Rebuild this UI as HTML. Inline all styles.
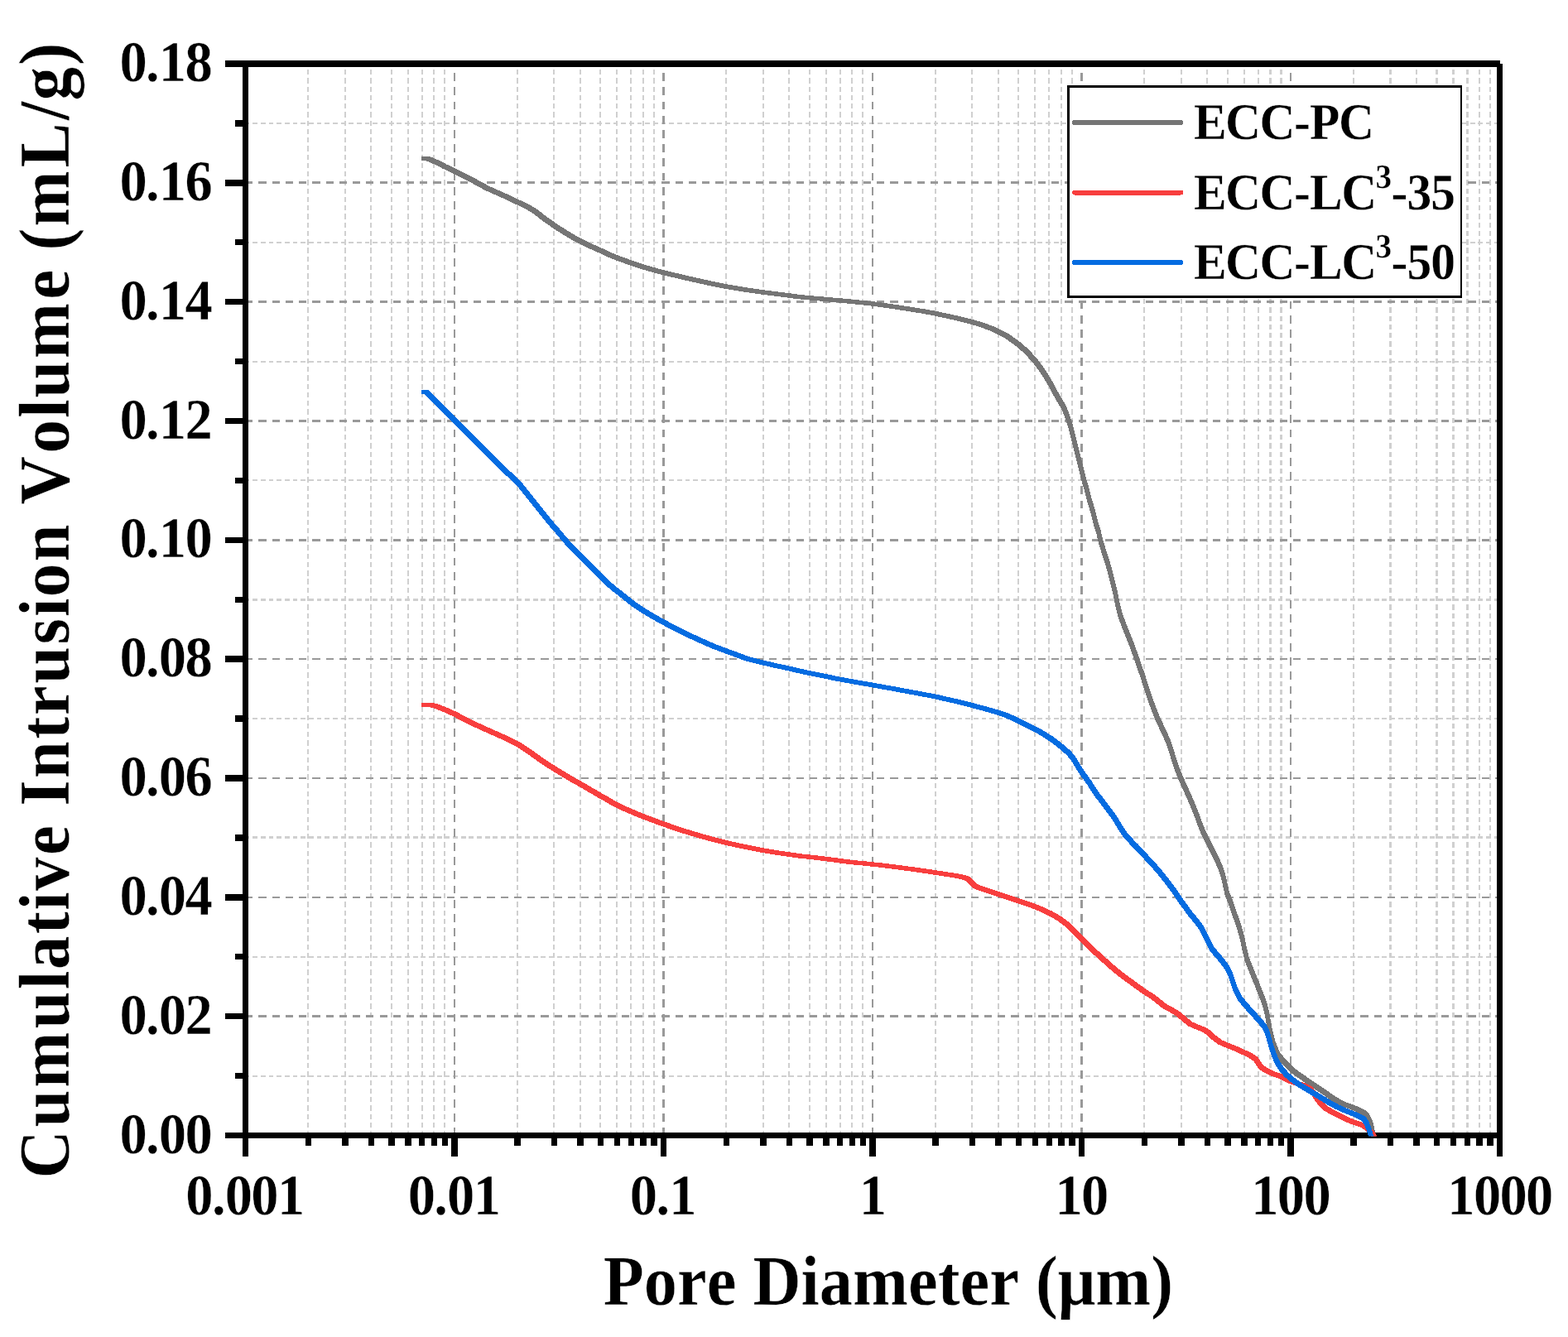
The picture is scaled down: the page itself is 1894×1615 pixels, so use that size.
<!DOCTYPE html>
<html lang="en"><head><meta charset="utf-8"><title>Cumulative Intrusion Volume vs Pore Diameter</title>
<style>html,body{margin:0;padding:0;background:#fff}body{width:1894px;height:1615px;overflow:hidden}svg{display:block}</style></head><body>
<svg width="1894" height="1615" viewBox="0 0 1894 1615" role="img" aria-label="Cumulative intrusion volume versus pore diameter for ECC-PC, ECC-LC3-35 and ECC-LC3-50">
<rect width="1894" height="1615" fill="#fff"/>
<g id="grid-minor" shape-rendering="crispEdges" fill="none" stroke="#d0d0d0">
<line x1="296.5" y1="149" x2="1811.5" y2="149" stroke-width="2" stroke-dasharray="5.85 3.825" stroke-dashoffset="1"/>
<line x1="296.5" y1="293" x2="1811.5" y2="293" stroke-width="2" stroke-dasharray="5.85 3.825" stroke-dashoffset="1"/>
<line x1="296.5" y1="437" x2="1811.5" y2="437" stroke-width="2" stroke-dasharray="5.85 3.825" stroke-dashoffset="1"/>
<line x1="296.5" y1="580" x2="1811.5" y2="580" stroke-width="2" stroke-dasharray="5.85 3.825" stroke-dashoffset="1"/>
<line x1="296.5" y1="724.5" x2="1811.5" y2="724.5" stroke-width="3" stroke-dasharray="5.85 3.825" stroke-dashoffset="1"/>
<line x1="296.5" y1="868" x2="1811.5" y2="868" stroke-width="2" stroke-dasharray="5.85 3.825" stroke-dashoffset="1"/>
<line x1="296.5" y1="1011.5" x2="1811.5" y2="1011.5" stroke-width="3" stroke-dasharray="5.85 3.825" stroke-dashoffset="1"/>
<line x1="296.5" y1="1156" x2="1811.5" y2="1156" stroke-width="2" stroke-dasharray="5.85 3.825" stroke-dashoffset="1"/>
<line x1="296.5" y1="1300" x2="1811.5" y2="1300" stroke-width="2" stroke-dasharray="5.85 3.825" stroke-dashoffset="1"/>
<line x1="372" y1="77" x2="372" y2="1371.5" stroke-width="2" stroke-dasharray="6.3 3.957" stroke-dashoffset="3.19"/>
<line x1="417" y1="77" x2="417" y2="1371.5" stroke-width="2" stroke-dasharray="6.3 3.957" stroke-dashoffset="3.19"/>
<line x1="448" y1="77" x2="448" y2="1371.5" stroke-width="2" stroke-dasharray="6.3 3.957" stroke-dashoffset="3.19"/>
<line x1="473" y1="77" x2="473" y2="1371.5" stroke-width="2" stroke-dasharray="6.3 3.957" stroke-dashoffset="3.19"/>
<line x1="493" y1="77" x2="493" y2="1371.5" stroke-width="2" stroke-dasharray="6.3 3.957" stroke-dashoffset="3.19"/>
<line x1="510" y1="77" x2="510" y2="1371.5" stroke-width="2" stroke-dasharray="6.3 3.957" stroke-dashoffset="3.19"/>
<line x1="524" y1="77" x2="524" y2="1371.5" stroke-width="2" stroke-dasharray="6.3 3.957" stroke-dashoffset="3.19"/>
<line x1="537" y1="77" x2="537" y2="1371.5" stroke-width="2" stroke-dasharray="6.3 3.957" stroke-dashoffset="3.19"/>
<line x1="625" y1="77" x2="625" y2="1371.5" stroke-width="2" stroke-dasharray="6.3 3.957" stroke-dashoffset="3.19"/>
<line x1="669" y1="77" x2="669" y2="1371.5" stroke-width="2" stroke-dasharray="6.3 3.957" stroke-dashoffset="3.19"/>
<line x1="701" y1="77" x2="701" y2="1371.5" stroke-width="2" stroke-dasharray="6.3 3.957" stroke-dashoffset="3.19"/>
<line x1="725" y1="77" x2="725" y2="1371.5" stroke-width="2" stroke-dasharray="6.3 3.957" stroke-dashoffset="3.19"/>
<line x1="745" y1="77" x2="745" y2="1371.5" stroke-width="2" stroke-dasharray="6.3 3.957" stroke-dashoffset="3.19"/>
<line x1="762" y1="77" x2="762" y2="1371.5" stroke-width="2" stroke-dasharray="6.3 3.957" stroke-dashoffset="3.19"/>
<line x1="777" y1="77" x2="777" y2="1371.5" stroke-width="2" stroke-dasharray="6.3 3.957" stroke-dashoffset="3.19"/>
<line x1="790" y1="77" x2="790" y2="1371.5" stroke-width="2" stroke-dasharray="6.3 3.957" stroke-dashoffset="3.19"/>
<line x1="877" y1="77" x2="877" y2="1371.5" stroke-width="2" stroke-dasharray="6.3 3.957" stroke-dashoffset="3.19"/>
<line x1="922" y1="77" x2="922" y2="1371.5" stroke-width="2" stroke-dasharray="6.3 3.957" stroke-dashoffset="3.19"/>
<line x1="953" y1="77" x2="953" y2="1371.5" stroke-width="2" stroke-dasharray="6.3 3.957" stroke-dashoffset="3.19"/>
<line x1="978" y1="77" x2="978" y2="1371.5" stroke-width="2" stroke-dasharray="6.3 3.957" stroke-dashoffset="3.19"/>
<line x1="998" y1="77" x2="998" y2="1371.5" stroke-width="2" stroke-dasharray="6.3 3.957" stroke-dashoffset="3.19"/>
<line x1="1015" y1="77" x2="1015" y2="1371.5" stroke-width="2" stroke-dasharray="6.3 3.957" stroke-dashoffset="3.19"/>
<line x1="1029" y1="77" x2="1029" y2="1371.5" stroke-width="2" stroke-dasharray="6.3 3.957" stroke-dashoffset="3.19"/>
<line x1="1042" y1="77" x2="1042" y2="1371.5" stroke-width="2" stroke-dasharray="6.3 3.957" stroke-dashoffset="3.19"/>
<line x1="1130" y1="77" x2="1130" y2="1371.5" stroke-width="2" stroke-dasharray="6.3 3.957" stroke-dashoffset="3.19"/>
<line x1="1174" y1="77" x2="1174" y2="1371.5" stroke-width="2" stroke-dasharray="6.3 3.957" stroke-dashoffset="3.19"/>
<line x1="1206" y1="77" x2="1206" y2="1371.5" stroke-width="2" stroke-dasharray="6.3 3.957" stroke-dashoffset="3.19"/>
<line x1="1230" y1="77" x2="1230" y2="1371.5" stroke-width="2" stroke-dasharray="6.3 3.957" stroke-dashoffset="3.19"/>
<line x1="1250" y1="77" x2="1250" y2="1371.5" stroke-width="2" stroke-dasharray="6.3 3.957" stroke-dashoffset="3.19"/>
<line x1="1267" y1="77" x2="1267" y2="1371.5" stroke-width="2" stroke-dasharray="6.3 3.957" stroke-dashoffset="3.19"/>
<line x1="1282" y1="77" x2="1282" y2="1371.5" stroke-width="2" stroke-dasharray="6.3 3.957" stroke-dashoffset="3.19"/>
<line x1="1295" y1="77" x2="1295" y2="1371.5" stroke-width="2" stroke-dasharray="6.3 3.957" stroke-dashoffset="3.19"/>
<line x1="1382" y1="77" x2="1382" y2="1371.5" stroke-width="2" stroke-dasharray="6.3 3.957" stroke-dashoffset="3.19"/>
<line x1="1427" y1="77" x2="1427" y2="1371.5" stroke-width="2" stroke-dasharray="6.3 3.957" stroke-dashoffset="3.19"/>
<line x1="1458" y1="77" x2="1458" y2="1371.5" stroke-width="2" stroke-dasharray="6.3 3.957" stroke-dashoffset="3.19"/>
<line x1="1483" y1="77" x2="1483" y2="1371.5" stroke-width="2" stroke-dasharray="6.3 3.957" stroke-dashoffset="3.19"/>
<line x1="1503" y1="77" x2="1503" y2="1371.5" stroke-width="2" stroke-dasharray="6.3 3.957" stroke-dashoffset="3.19"/>
<line x1="1520" y1="77" x2="1520" y2="1371.5" stroke-width="2" stroke-dasharray="6.3 3.957" stroke-dashoffset="3.19"/>
<line x1="1534.5" y1="77" x2="1534.5" y2="1371.5" stroke-width="3" stroke-dasharray="6.3 3.957" stroke-dashoffset="3.19"/>
<line x1="1547.5" y1="77" x2="1547.5" y2="1371.5" stroke-width="3" stroke-dasharray="6.3 3.957" stroke-dashoffset="3.19"/>
<line x1="1635" y1="77" x2="1635" y2="1371.5" stroke-width="2" stroke-dasharray="6.3 3.957" stroke-dashoffset="3.19"/>
<line x1="1679.5" y1="77" x2="1679.5" y2="1371.5" stroke-width="3" stroke-dasharray="6.3 3.957" stroke-dashoffset="3.19"/>
<line x1="1711" y1="77" x2="1711" y2="1371.5" stroke-width="2" stroke-dasharray="6.3 3.957" stroke-dashoffset="3.19"/>
<line x1="1735.5" y1="77" x2="1735.5" y2="1371.5" stroke-width="3" stroke-dasharray="6.3 3.957" stroke-dashoffset="3.19"/>
<line x1="1755.5" y1="77" x2="1755.5" y2="1371.5" stroke-width="3" stroke-dasharray="6.3 3.957" stroke-dashoffset="3.19"/>
<line x1="1772.5" y1="77" x2="1772.5" y2="1371.5" stroke-width="3" stroke-dasharray="6.3 3.957" stroke-dashoffset="3.19"/>
<line x1="1787" y1="77" x2="1787" y2="1371.5" stroke-width="2" stroke-dasharray="6.3 3.957" stroke-dashoffset="3.19"/>
<line x1="1800" y1="77" x2="1800" y2="1371.5" stroke-width="2" stroke-dasharray="6.3 3.957" stroke-dashoffset="3.19"/>
</g>
<g id="grid-major" shape-rendering="crispEdges" fill="none" stroke="#999999">
<line x1="296.5" y1="220.5" x2="1811.5" y2="220.5" stroke-width="3" stroke-dasharray="9.2 7.032" stroke-dashoffset="0.3"/>
<line x1="296.5" y1="364.5" x2="1811.5" y2="364.5" stroke-width="3" stroke-dasharray="9.2 7.032" stroke-dashoffset="0.3"/>
<line x1="296.5" y1="508.5" x2="1811.5" y2="508.5" stroke-width="3" stroke-dasharray="9.2 7.032" stroke-dashoffset="0.3"/>
<line x1="296.5" y1="652.5" x2="1811.5" y2="652.5" stroke-width="3" stroke-dasharray="9.2 7.032" stroke-dashoffset="0.3"/>
<line x1="296.5" y1="796" x2="1811.5" y2="796" stroke-width="2" stroke-dasharray="9.2 7.032" stroke-dashoffset="0.3"/>
<line x1="296.5" y1="940" x2="1811.5" y2="940" stroke-width="2" stroke-dasharray="9.2 7.032" stroke-dashoffset="0.3"/>
<line x1="296.5" y1="1084" x2="1811.5" y2="1084" stroke-width="2" stroke-dasharray="9.2 7.032" stroke-dashoffset="0.3"/>
<line x1="296.5" y1="1227.5" x2="1811.5" y2="1227.5" stroke-width="3" stroke-dasharray="9.2 7.032" stroke-dashoffset="0.3"/>
<line x1="549" y1="77" x2="549" y2="1371.5" stroke-width="2" stroke-dasharray="9.8 7.42" stroke-dashoffset="6.16"/>
<line x1="801.5" y1="77" x2="801.5" y2="1371.5" stroke-width="3" stroke-dasharray="9.8 7.42" stroke-dashoffset="6.16"/>
<line x1="1054" y1="77" x2="1054" y2="1371.5" stroke-width="2" stroke-dasharray="9.8 7.42" stroke-dashoffset="6.16"/>
<line x1="1306.5" y1="77" x2="1306.5" y2="1371.5" stroke-width="3" stroke-dasharray="9.8 7.42" stroke-dashoffset="6.16"/>
<line x1="1559" y1="77" x2="1559" y2="1371.5" stroke-width="2" stroke-dasharray="9.8 7.42" stroke-dashoffset="6.16"/>
</g>
<g id="axes" shape-rendering="crispEdges" fill="#000">
<rect x="272" y="73" width="1540" height="8"/>
<rect x="272" y="1368" width="1543" height="7"/>
<rect x="293" y="73" width="7" height="1324"/>
<rect x="1808" y="77" width="7" height="1320"/>
<rect x="284" y="145" width="12" height="8"/>
<rect x="272" y="217" width="24" height="8"/>
<rect x="284" y="289" width="12" height="7"/>
<rect x="272" y="361" width="24" height="7"/>
<rect x="284" y="433" width="12" height="7"/>
<rect x="272" y="505" width="24" height="7"/>
<rect x="284" y="577" width="12" height="7"/>
<rect x="272" y="649" width="24" height="7"/>
<rect x="284" y="721" width="12" height="7"/>
<rect x="272" y="792" width="24" height="8"/>
<rect x="284" y="864" width="12" height="8"/>
<rect x="272" y="936" width="24" height="8"/>
<rect x="284" y="1008" width="12" height="8"/>
<rect x="272" y="1080" width="24" height="8"/>
<rect x="284" y="1152" width="12" height="7"/>
<rect x="272" y="1224" width="24" height="7"/>
<rect x="284" y="1296" width="12" height="7"/>
<rect x="369" y="1371" width="7" height="13"/>
<rect x="413" y="1371" width="8" height="13"/>
<rect x="445" y="1371" width="7" height="13"/>
<rect x="469" y="1371" width="8" height="13"/>
<rect x="489" y="1371" width="8" height="13"/>
<rect x="506" y="1371" width="7" height="13"/>
<rect x="521" y="1371" width="7" height="13"/>
<rect x="534" y="1371" width="7" height="13"/>
<rect x="545" y="1371" width="8" height="26"/>
<rect x="621" y="1371" width="8" height="13"/>
<rect x="666" y="1371" width="7" height="13"/>
<rect x="697" y="1371" width="8" height="13"/>
<rect x="722" y="1371" width="7" height="13"/>
<rect x="742" y="1371" width="7" height="13"/>
<rect x="759" y="1371" width="7" height="13"/>
<rect x="773" y="1371" width="8" height="13"/>
<rect x="786" y="1371" width="8" height="13"/>
<rect x="798" y="1371" width="7" height="26"/>
<rect x="874" y="1371" width="7" height="13"/>
<rect x="918" y="1371" width="8" height="13"/>
<rect x="950" y="1371" width="7" height="13"/>
<rect x="974" y="1371" width="8" height="13"/>
<rect x="994" y="1371" width="8" height="13"/>
<rect x="1011" y="1371" width="7" height="13"/>
<rect x="1026" y="1371" width="7" height="13"/>
<rect x="1039" y="1371" width="7" height="13"/>
<rect x="1050" y="1371" width="8" height="26"/>
<rect x="1126" y="1371" width="8" height="13"/>
<rect x="1171" y="1371" width="7" height="13"/>
<rect x="1202" y="1371" width="8" height="13"/>
<rect x="1227" y="1371" width="7" height="13"/>
<rect x="1247" y="1371" width="7" height="13"/>
<rect x="1264" y="1371" width="7" height="13"/>
<rect x="1278" y="1371" width="8" height="13"/>
<rect x="1291" y="1371" width="8" height="13"/>
<rect x="1303" y="1371" width="7" height="26"/>
<rect x="1379" y="1371" width="7" height="13"/>
<rect x="1423" y="1371" width="8" height="13"/>
<rect x="1455" y="1371" width="7" height="13"/>
<rect x="1479" y="1371" width="8" height="13"/>
<rect x="1499" y="1371" width="8" height="13"/>
<rect x="1516" y="1371" width="7" height="13"/>
<rect x="1531" y="1371" width="7" height="13"/>
<rect x="1544" y="1371" width="7" height="13"/>
<rect x="1555" y="1371" width="8" height="26"/>
<rect x="1631" y="1371" width="8" height="13"/>
<rect x="1676" y="1371" width="7" height="13"/>
<rect x="1707" y="1371" width="8" height="13"/>
<rect x="1732" y="1371" width="7" height="13"/>
<rect x="1752" y="1371" width="7" height="13"/>
<rect x="1769" y="1371" width="7" height="13"/>
<rect x="1783" y="1371" width="8" height="13"/>
<rect x="1796" y="1371" width="8" height="13"/>
</g>
<defs><clipPath id="plotclip"><rect x="296.5" y="77" width="1515" height="1295.5"/></clipPath></defs>
<g id="curves" clip-path="url(#plotclip)" stroke="none" shape-rendering="crispEdges">
<path id="ecc-pc" fill="#757575" d="M509.3 188.9L514.3 188.9C515.17 189 517.3 188.9 519.5 189.5C521.7 190.1 524.08 190.96 527.5 192.5C530.92 194.04 535.98 196.77 540 198.75C544.02 200.73 547.43 202.32 551.6 204.4C555.77 206.48 560.68 209.07 565 211.25C569.32 213.43 573.33 215.31 577.5 217.5C581.67 219.69 585.83 222.32 590 224.4C594.17 226.48 598.33 228.13 602.5 230C606.67 231.87 610.83 233.68 615 235.6C619.17 237.52 623.33 239.52 627.5 241.5C631.67 243.48 636.25 245.46 640 247.5C643.75 249.54 646.88 251.57 650 253.75C653.12 255.93 655.21 257.99 658.75 260.6C662.29 263.21 667.08 266.58 671.25 269.4C675.42 272.22 679.58 274.9 683.75 277.5C687.92 280.1 693.02 283.12 696.25 285C699.48 286.88 699.98 287.18 703.1 288.75C706.23 290.32 710.93 292.52 715 294.4C719.07 296.27 723.42 298.15 727.5 300C731.58 301.85 736.17 304.04 739.5 305.5C742.83 306.96 743.35 307.17 747.5 308.75C751.65 310.33 759.08 313.12 764.4 315C769.72 316.88 774.72 318.54 779.4 320C784.08 321.46 788.4 322.6 792.5 323.75C796.6 324.9 799.42 325.76 804 326.9C808.58 328.04 814.21 329.25 820 330.6C825.79 331.95 832.5 333.58 838.75 335C845 336.42 850.73 337.68 857.5 339.1C864.27 340.52 872.11 342.14 879.4 343.5C886.69 344.86 893.75 346.07 901.25 347.25C908.75 348.43 917.11 349.62 924.4 350.6C931.69 351.58 937.52 352.16 945 353.1C952.48 354.04 961.33 355.38 969.25 356.25C977.17 357.12 984.62 357.61 992.5 358.3C1000.38 358.99 1009.17 359.72 1016.5 360.4C1023.83 361.08 1029.83 361.73 1036.5 362.4C1043.17 363.07 1049.67 363.58 1056.5 364.4C1063.33 365.22 1070.83 366.33 1077.5 367.3C1084.17 368.27 1089.62 369.13 1096.5 370.2C1103.38 371.27 1112.79 372.7 1118.75 373.7C1124.71 374.7 1127.04 375.15 1132.25 376.2C1137.46 377.25 1144.96 378.9 1150 380C1155.04 381.1 1158.12 381.75 1162.5 382.8C1166.88 383.85 1172.08 385.13 1176.25 386.3C1180.42 387.47 1183.54 388.48 1187.5 389.8C1191.46 391.12 1196.57 392.85 1200 394.2C1203.43 395.55 1204.97 396.33 1208.1 397.9C1211.22 399.47 1215.93 401.92 1218.75 403.6C1221.57 405.28 1222.78 406.43 1225 408C1227.22 409.57 1229.6 411.02 1232.1 413C1234.6 414.98 1237.43 417.48 1240 419.9C1242.57 422.32 1245.42 425.3 1247.5 427.5C1249.58 429.7 1250.62 430.81 1252.5 433.1C1254.38 435.39 1256.67 438.33 1258.75 441.25C1260.83 444.17 1263.14 447.73 1265 450.6C1266.86 453.48 1268.15 455.48 1269.9 458.5C1271.65 461.52 1273.73 465.5 1275.5 468.75C1277.27 472 1278.5 474.46 1280.5 478C1282.5 481.54 1285.5 485.92 1287.5 490C1289.5 494.08 1291.04 498.33 1292.5 502.5C1293.96 506.67 1295.1 510.83 1296.25 515C1297.4 519.17 1298.36 523.33 1299.4 527.5C1300.44 531.67 1301.47 535.83 1302.5 540C1303.53 544.17 1304.56 548.33 1305.6 552.5C1306.64 556.67 1307.7 560.83 1308.75 565C1309.8 569.17 1310.76 573.33 1311.9 577.5C1313.04 581.67 1314.46 585.83 1315.6 590C1316.74 594.17 1317.6 598.33 1318.75 602.5C1319.9 606.67 1321.36 610.83 1322.5 615C1323.64 619.17 1324.45 623.33 1325.6 627.5C1326.75 631.67 1328.25 635.83 1329.4 640C1330.55 644.17 1331.36 648.33 1332.5 652.5C1333.64 656.67 1334.95 660.83 1336.25 665C1337.55 669.17 1339.05 673.33 1340.3 677.5C1341.55 681.67 1342.65 685.83 1343.75 690C1344.85 694.17 1345.86 698.33 1346.9 702.5C1347.94 706.67 1349.07 710.83 1350 715C1350.93 719.17 1351.57 723.33 1352.5 727.5C1353.43 731.67 1354.35 735.83 1355.6 740C1356.85 744.17 1358.43 748.33 1360 752.5C1361.57 756.67 1363.33 760.83 1365 765C1366.67 769.17 1368.43 773.33 1370 777.5C1371.57 781.67 1372.94 785.83 1374.4 790C1375.86 794.17 1377.3 798.33 1378.75 802.5C1380.2 806.67 1381.74 810.83 1383.1 815C1384.46 819.17 1385.54 823.33 1386.9 827.5C1388.26 831.67 1389.8 835.83 1391.25 840C1392.7 844.17 1394.04 848.33 1395.6 852.5C1397.16 856.67 1398.72 860.67 1400.6 865C1402.48 869.33 1404.67 873.58 1406.9 878.5C1409.13 883.42 1411.98 889.25 1414 894.5C1416.02 899.75 1417.33 904.83 1419 910C1420.67 915.17 1422.33 920.83 1424 925.5C1425.67 930.17 1427.17 933.71 1429 938C1430.83 942.29 1432.92 946.58 1435 951.25C1437.08 955.92 1439.21 960.54 1441.5 966C1443.79 971.46 1446.71 978.75 1448.75 984C1450.79 989.25 1452.08 993.38 1453.75 997.5C1455.42 1001.62 1456.88 1004.79 1458.75 1008.75C1460.62 1012.71 1462.92 1017.08 1465 1021.25C1467.08 1025.42 1469.17 1029.38 1471.25 1033.75C1473.33 1038.12 1475.83 1042.92 1477.5 1047.5C1479.17 1052.08 1480 1056.25 1481.25 1061.25C1482.5 1066.25 1483.96 1073.79 1485 1077.5C1486.04 1081.21 1485.92 1079.17 1487.5 1083.5C1489.08 1087.83 1492.33 1097.17 1494.5 1103.5C1496.67 1109.83 1498.83 1115.83 1500.5 1121.5C1502.17 1127.17 1503.17 1131.83 1504.5 1137.5C1505.83 1143.17 1506.5 1149.17 1508.5 1155.5C1510.5 1161.83 1513.83 1168.83 1516.5 1175.5C1519.17 1182.17 1522.17 1189.5 1524.5 1195.5C1526.83 1201.5 1529 1206.5 1530.5 1211.5C1532 1216.5 1532.5 1220.5 1533.5 1225.5C1534.5 1230.5 1535.33 1236.17 1536.5 1241.5C1537.67 1246.83 1538.83 1252.5 1540.5 1257.5C1542.17 1262.5 1544.08 1267.54 1546.5 1271.5C1548.92 1275.46 1552.33 1278.27 1555 1281.25C1557.67 1284.23 1559.38 1286.69 1562.5 1289.4C1565.62 1292.11 1569.79 1294.69 1573.75 1297.5C1577.71 1300.31 1582.08 1303.43 1586.25 1306.25C1590.42 1309.07 1594.58 1311.59 1598.75 1314.4C1602.92 1317.21 1607.08 1320.4 1611.25 1323.1C1615.42 1325.8 1619.58 1328.62 1623.75 1330.6C1627.92 1332.58 1632.71 1333.64 1636.25 1335C1639.79 1336.36 1642.5 1337.5 1645 1338.75C1647.5 1340 1649.58 1341.04 1651.25 1342.5C1652.92 1343.96 1653.86 1345.42 1655 1347.5C1656.14 1349.58 1657.27 1352.5 1658.1 1355C1658.93 1357.5 1659.43 1359.92 1660 1362.5C1660.57 1365.08 1661.25 1369.17 1661.5 1370.5L1661.5 1375.5L1656.5 1375.5C1656.25 1374.17 1655.57 1370.08 1655 1367.5C1654.43 1364.92 1653.93 1362.5 1653.1 1360C1652.27 1357.5 1651.14 1354.58 1650 1352.5C1648.86 1350.42 1647.92 1348.96 1646.25 1347.5C1644.58 1346.04 1642.5 1345 1640 1343.75C1637.5 1342.5 1634.79 1341.36 1631.25 1340C1627.71 1338.64 1622.92 1337.58 1618.75 1335.6C1614.58 1333.62 1610.42 1330.8 1606.25 1328.1C1602.08 1325.4 1597.92 1322.21 1593.75 1319.4C1589.58 1316.59 1585.42 1314.07 1581.25 1311.25C1577.08 1308.43 1572.71 1305.31 1568.75 1302.5C1564.79 1299.69 1560.62 1297.11 1557.5 1294.4C1554.38 1291.69 1552.67 1289.23 1550 1286.25C1547.33 1283.27 1543.92 1280.46 1541.5 1276.5C1539.08 1272.54 1537.17 1267.5 1535.5 1262.5C1533.83 1257.5 1532.67 1251.83 1531.5 1246.5C1530.33 1241.17 1529.5 1235.5 1528.5 1230.5C1527.5 1225.5 1527 1221.5 1525.5 1216.5C1524 1211.5 1521.83 1206.5 1519.5 1200.5C1517.17 1194.5 1514.17 1187.17 1511.5 1180.5C1508.83 1173.83 1505.5 1166.83 1503.5 1160.5C1501.5 1154.17 1500.83 1148.17 1499.5 1142.5C1498.17 1136.83 1497.17 1132.17 1495.5 1126.5C1493.83 1120.83 1491.67 1114.83 1489.5 1108.5C1487.33 1102.17 1484.08 1092.83 1482.5 1088.5C1480.92 1084.17 1481.04 1086.21 1480 1082.5C1478.96 1078.79 1477.5 1071.25 1476.25 1066.25C1475 1061.25 1474.17 1057.08 1472.5 1052.5C1470.83 1047.92 1468.33 1043.12 1466.25 1038.75C1464.17 1034.38 1462.08 1030.42 1460 1026.25C1457.92 1022.08 1455.62 1017.71 1453.75 1013.75C1451.88 1009.79 1450.42 1006.62 1448.75 1002.5C1447.08 998.38 1445.79 994.25 1443.75 989C1441.71 983.75 1438.79 976.46 1436.5 971C1434.21 965.54 1432.08 960.92 1430 956.25C1427.92 951.58 1425.83 947.29 1424 943C1422.17 938.71 1420.67 935.17 1419 930.5C1417.33 925.83 1415.67 920.17 1414 915C1412.33 909.83 1411.02 904.75 1409 899.5C1406.98 894.25 1404.13 888.42 1401.9 883.5C1399.67 878.58 1397.48 874.33 1395.6 870C1393.72 865.67 1392.16 861.67 1390.6 857.5C1389.04 853.33 1387.7 849.17 1386.25 845C1384.8 840.83 1383.26 836.67 1381.9 832.5C1380.54 828.33 1379.46 824.17 1378.1 820C1376.74 815.83 1375.2 811.67 1373.75 807.5C1372.3 803.33 1370.86 799.17 1369.4 795C1367.94 790.83 1366.57 786.67 1365 782.5C1363.43 778.33 1361.67 774.17 1360 770C1358.33 765.83 1356.57 761.67 1355 757.5C1353.43 753.33 1351.85 749.17 1350.6 745C1349.35 740.83 1348.43 736.67 1347.5 732.5C1346.57 728.33 1345.93 724.17 1345 720C1344.07 715.83 1342.94 711.67 1341.9 707.5C1340.86 703.33 1339.85 699.17 1338.75 695C1337.65 690.83 1336.55 686.67 1335.3 682.5C1334.05 678.33 1332.55 674.17 1331.25 670C1329.95 665.83 1328.64 661.67 1327.5 657.5C1326.36 653.33 1325.55 649.17 1324.4 645C1323.25 640.83 1321.75 636.67 1320.6 632.5C1319.45 628.33 1318.64 624.17 1317.5 620C1316.36 615.83 1314.9 611.67 1313.75 607.5C1312.6 603.33 1311.74 599.17 1310.6 595C1309.46 590.83 1308.04 586.67 1306.9 582.5C1305.76 578.33 1304.8 574.17 1303.75 570C1302.7 565.83 1301.64 561.67 1300.6 557.5C1299.56 553.33 1298.53 549.17 1297.5 545C1296.47 540.83 1295.44 536.67 1294.4 532.5C1293.36 528.33 1292.4 524.17 1291.25 520C1290.1 515.83 1288.96 511.67 1287.5 507.5C1286.04 503.33 1284.5 499.08 1282.5 495C1280.5 490.92 1277.5 486.54 1275.5 483C1273.5 479.46 1272.27 477 1270.5 473.75C1268.73 470.5 1266.65 466.52 1264.9 463.5C1263.15 460.48 1261.86 458.48 1260 455.6C1258.14 452.73 1255.83 449.17 1253.75 446.25C1251.67 443.33 1249.38 440.39 1247.5 438.1C1245.62 435.81 1244.58 434.7 1242.5 432.5C1240.42 430.3 1237.57 427.32 1235 424.9C1232.43 422.48 1229.6 419.98 1227.1 418C1224.6 416.02 1222.22 414.57 1220 413C1217.78 411.43 1216.57 410.28 1213.75 408.6C1210.93 406.92 1206.22 404.47 1203.1 402.9C1199.97 401.33 1198.43 400.55 1195 399.2C1191.57 397.85 1186.46 396.12 1182.5 394.8C1178.54 393.48 1175.42 392.47 1171.25 391.3C1167.08 390.13 1161.88 388.85 1157.5 387.8C1153.12 386.75 1150.04 386.1 1145 385C1139.96 383.9 1132.46 382.25 1127.25 381.2C1122.04 380.15 1119.71 379.7 1113.75 378.7C1107.79 377.7 1098.38 376.27 1091.5 375.2C1084.62 374.13 1079.17 373.27 1072.5 372.3C1065.83 371.33 1058.33 370.22 1051.5 369.4C1044.67 368.58 1038.17 368.07 1031.5 367.4C1024.83 366.73 1018.83 366.08 1011.5 365.4C1004.17 364.72 995.38 363.99 987.5 363.3C979.62 362.61 972.17 362.12 964.25 361.25C956.33 360.38 947.48 359.04 940 358.1C932.52 357.16 926.69 356.58 919.4 355.6C912.11 354.62 903.75 353.43 896.25 352.25C888.75 351.07 881.69 349.86 874.4 348.5C867.11 347.14 859.27 345.52 852.5 344.1C845.73 342.68 840 341.42 833.75 340C827.5 338.58 820.79 336.95 815 335.6C809.21 334.25 803.58 333.04 799 331.9C794.42 330.76 791.6 329.9 787.5 328.75C783.4 327.6 779.08 326.46 774.4 325C769.72 323.54 764.72 321.88 759.4 320C754.08 318.12 746.65 315.33 742.5 313.75C738.35 312.17 737.83 311.96 734.5 310.5C731.17 309.04 726.58 306.85 722.5 305C718.42 303.15 714.07 301.27 710 299.4C705.93 297.52 701.23 295.32 698.1 293.75C694.98 292.18 694.48 291.88 691.25 290C688.02 288.12 682.92 285.1 678.75 282.5C674.58 279.9 670.42 277.22 666.25 274.4C662.08 271.58 657.29 268.21 653.75 265.6C650.21 262.99 648.12 260.93 645 258.75C641.88 256.57 638.75 254.54 635 252.5C631.25 250.46 626.67 248.48 622.5 246.5C618.33 244.52 614.17 242.52 610 240.6C605.83 238.68 601.67 236.87 597.5 235C593.33 233.13 589.17 231.48 585 229.4C580.83 227.32 576.67 224.69 572.5 222.5C568.33 220.31 564.32 218.43 560 216.25C555.68 214.07 550.77 211.48 546.6 209.4C542.43 207.32 539.02 205.73 535 203.75C530.98 201.77 525.92 199.04 522.5 197.5C519.08 195.96 516.7 195.1 514.5 194.5C512.3 193.9 510.17 194 509.3 193.9Z"/>
<path id="ecc-lc3-35" fill="#F83E3E" d="M509 849L514 849C515.21 849.03 519 849.02 521.25 849.2C523.5 849.38 524.38 849.18 527.5 850.1C530.62 851.02 535.98 853.1 540 854.75C544.02 856.4 547.43 857.98 551.6 860C555.77 862.02 560.68 864.72 565 866.9C569.32 869.08 573.33 871.12 577.5 873.1C581.67 875.08 585.83 876.87 590 878.75C594.17 880.63 598.33 882.52 602.5 884.4C606.67 886.27 610.83 888.02 615 890C619.17 891.98 623.75 894.17 627.5 896.25C631.25 898.33 634.38 900.42 637.5 902.5C640.62 904.58 642.71 906.25 646.25 908.75C649.79 911.25 654.58 914.69 658.75 917.5C662.92 920.31 667.08 923 671.25 925.6C675.42 928.2 679.58 930.6 683.75 933.1C687.92 935.6 693.02 938.72 696.25 940.6C699.48 942.48 699.98 942.62 703.1 944.4C706.23 946.17 710.93 948.9 715 951.25C719.07 953.6 723.42 956.16 727.5 958.5C731.58 960.84 736.17 963.38 739.5 965.3C742.83 967.22 743.35 967.97 747.5 970C751.65 972.03 759.08 975.21 764.4 977.5C769.72 979.79 774.72 981.88 779.4 983.75C784.08 985.62 788.4 987.23 792.5 988.75C796.6 990.27 799.42 991.27 804 992.9C808.58 994.52 814.21 996.58 820 998.5C825.79 1000.42 832.5 1002.52 838.75 1004.4C845 1006.27 850.73 1007.92 857.5 1009.75C864.27 1011.58 872.11 1013.65 879.4 1015.4C886.69 1017.15 893.75 1018.69 901.25 1020.25C908.75 1021.81 917.11 1023.44 924.4 1024.75C931.69 1026.06 939.86 1027.29 945 1028.1C950.14 1028.91 951.21 1029.03 955.25 1029.6C959.29 1030.17 964.71 1030.95 969.25 1031.5C973.79 1032.05 977.38 1032.32 982.5 1032.9C987.62 1033.48 994.17 1034.28 1000 1035C1005.83 1035.72 1012.29 1036.58 1017.5 1037.25C1022.71 1037.92 1026.77 1038.5 1031.25 1039C1035.73 1039.5 1040.19 1039.83 1044.4 1040.25C1048.61 1040.67 1051.19 1040.92 1056.5 1041.5C1061.81 1042.08 1069.83 1042.96 1076.25 1043.75C1082.67 1044.54 1088.75 1045.42 1095 1046.25C1101.25 1047.08 1107.5 1047.88 1113.75 1048.75C1120 1049.62 1127.29 1050.71 1132.5 1051.5C1137.71 1052.29 1140.83 1052.85 1145 1053.5C1149.17 1054.15 1154.17 1054.8 1157.5 1055.4C1160.83 1056 1162.71 1056.5 1165 1057.1C1167.29 1057.7 1169.48 1058 1171.25 1059C1173.02 1060 1174.14 1061.68 1175.6 1063.1C1177.06 1064.52 1178.43 1066.35 1180 1067.5C1181.57 1068.65 1182.5 1069.07 1185 1070C1187.5 1070.93 1191.15 1071.85 1195 1073.1C1198.85 1074.35 1204.06 1076.14 1208.1 1077.5C1212.14 1078.86 1215.18 1079.92 1219.25 1081.25C1223.32 1082.58 1226.96 1083.62 1232.5 1085.5C1238.04 1087.38 1246.33 1090.08 1252.5 1092.5C1258.67 1094.92 1264.17 1097.29 1269.5 1100C1274.83 1102.71 1279.83 1105.5 1284.5 1108.75C1289.17 1112 1293.43 1115.75 1297.5 1119.5C1301.57 1123.25 1304.94 1127.21 1308.9 1131.25C1312.86 1135.29 1317.11 1139.79 1321.25 1143.75C1325.39 1147.71 1329.58 1151.25 1333.75 1155C1337.92 1158.75 1342.08 1162.71 1346.25 1166.25C1350.42 1169.79 1354.58 1173.04 1358.75 1176.25C1362.92 1179.46 1366.96 1182.38 1371.25 1185.5C1375.54 1188.62 1380.33 1192.17 1384.5 1195C1388.67 1197.83 1392.21 1199.58 1396.25 1202.5C1400.29 1205.42 1404.58 1209.67 1408.75 1212.5C1412.92 1215.33 1417.79 1217.33 1421.25 1219.5C1424.71 1221.67 1426.29 1223 1429.5 1225.5C1432.71 1228 1436.67 1232.17 1440.5 1234.5C1444.33 1236.83 1449.17 1238 1452.5 1239.5C1455.83 1241 1457.83 1241.67 1460.5 1243.5C1463.17 1245.33 1465.83 1248.33 1468.5 1250.5C1471.17 1252.67 1473.17 1254.67 1476.5 1256.5C1479.83 1258.33 1483.83 1259.5 1488.5 1261.5C1493.17 1263.5 1499.67 1266.17 1504.5 1268.5C1509.33 1270.83 1514.29 1272.96 1517.5 1275.5C1520.71 1278.04 1521.67 1281.42 1523.75 1283.75C1525.83 1286.08 1527.29 1287.71 1530 1289.5C1532.71 1291.29 1536.88 1293.17 1540 1294.5C1543.12 1295.83 1545.21 1295.96 1548.75 1297.5C1552.29 1299.04 1557.08 1302.08 1561.25 1303.75C1565.42 1305.42 1569.79 1306.04 1573.75 1307.5C1577.71 1308.96 1582.08 1310.21 1585 1312.5C1587.92 1314.79 1589.17 1318.33 1591.25 1321.25C1593.33 1324.17 1595.42 1327.5 1597.5 1330C1599.58 1332.5 1600.83 1334.17 1603.75 1336.25C1606.67 1338.33 1611.04 1340.42 1615 1342.5C1618.96 1344.58 1623.75 1346.98 1627.5 1348.75C1631.25 1350.52 1633.96 1351.74 1637.5 1353.1C1641.04 1354.46 1645.83 1355.54 1648.75 1356.9C1651.67 1358.26 1653.12 1359.69 1655 1361.25C1656.88 1362.81 1658.75 1364.71 1660 1366.25C1661.25 1367.79 1662.08 1369.79 1662.5 1370.5L1662.5 1375.5L1657.5 1375.5C1657.08 1374.79 1656.25 1372.79 1655 1371.25C1653.75 1369.71 1651.88 1367.81 1650 1366.25C1648.12 1364.69 1646.67 1363.26 1643.75 1361.9C1640.83 1360.54 1636.04 1359.46 1632.5 1358.1C1628.96 1356.74 1626.25 1355.52 1622.5 1353.75C1618.75 1351.98 1613.96 1349.58 1610 1347.5C1606.04 1345.42 1601.67 1343.33 1598.75 1341.25C1595.83 1339.17 1594.58 1337.5 1592.5 1335C1590.42 1332.5 1588.33 1329.17 1586.25 1326.25C1584.17 1323.33 1582.92 1319.79 1580 1317.5C1577.08 1315.21 1572.71 1313.96 1568.75 1312.5C1564.79 1311.04 1560.42 1310.42 1556.25 1308.75C1552.08 1307.08 1547.29 1304.04 1543.75 1302.5C1540.21 1300.96 1538.12 1300.83 1535 1299.5C1531.88 1298.17 1527.71 1296.29 1525 1294.5C1522.29 1292.71 1520.83 1291.08 1518.75 1288.75C1516.67 1286.42 1515.71 1283.04 1512.5 1280.5C1509.29 1277.96 1504.33 1275.83 1499.5 1273.5C1494.67 1271.17 1488.17 1268.5 1483.5 1266.5C1478.83 1264.5 1474.83 1263.33 1471.5 1261.5C1468.17 1259.67 1466.17 1257.67 1463.5 1255.5C1460.83 1253.33 1458.17 1250.33 1455.5 1248.5C1452.83 1246.67 1450.83 1246 1447.5 1244.5C1444.17 1243 1439.33 1241.83 1435.5 1239.5C1431.67 1237.17 1427.71 1233 1424.5 1230.5C1421.29 1228 1419.71 1226.67 1416.25 1224.5C1412.79 1222.33 1407.92 1220.33 1403.75 1217.5C1399.58 1214.67 1395.29 1210.42 1391.25 1207.5C1387.21 1204.58 1383.67 1202.83 1379.5 1200C1375.33 1197.17 1370.54 1193.62 1366.25 1190.5C1361.96 1187.38 1357.92 1184.46 1353.75 1181.25C1349.58 1178.04 1345.42 1174.79 1341.25 1171.25C1337.08 1167.71 1332.92 1163.75 1328.75 1160C1324.58 1156.25 1320.39 1152.71 1316.25 1148.75C1312.11 1144.79 1307.86 1140.29 1303.9 1136.25C1299.94 1132.21 1296.57 1128.25 1292.5 1124.5C1288.43 1120.75 1284.17 1117 1279.5 1113.75C1274.83 1110.5 1269.83 1107.71 1264.5 1105C1259.17 1102.29 1253.67 1099.92 1247.5 1097.5C1241.33 1095.08 1233.04 1092.38 1227.5 1090.5C1221.96 1088.62 1218.32 1087.58 1214.25 1086.25C1210.18 1084.92 1207.14 1083.86 1203.1 1082.5C1199.06 1081.14 1193.85 1079.35 1190 1078.1C1186.15 1076.85 1182.5 1075.93 1180 1075C1177.5 1074.07 1176.57 1073.65 1175 1072.5C1173.43 1071.35 1172.06 1069.52 1170.6 1068.1C1169.14 1066.68 1168.02 1065 1166.25 1064C1164.48 1063 1162.29 1062.7 1160 1062.1C1157.71 1061.5 1155.83 1061 1152.5 1060.4C1149.17 1059.8 1144.17 1059.15 1140 1058.5C1135.83 1057.85 1132.71 1057.29 1127.5 1056.5C1122.29 1055.71 1115 1054.62 1108.75 1053.75C1102.5 1052.88 1096.25 1052.08 1090 1051.25C1083.75 1050.42 1077.67 1049.54 1071.25 1048.75C1064.83 1047.96 1056.81 1047.08 1051.5 1046.5C1046.19 1045.92 1043.61 1045.67 1039.4 1045.25C1035.19 1044.83 1030.73 1044.5 1026.25 1044C1021.77 1043.5 1017.71 1042.92 1012.5 1042.25C1007.29 1041.58 1000.83 1040.72 995 1040C989.17 1039.28 982.62 1038.48 977.5 1037.9C972.38 1037.32 968.79 1037.05 964.25 1036.5C959.71 1035.95 954.29 1035.17 950.25 1034.6C946.21 1034.03 945.14 1033.91 940 1033.1C934.86 1032.29 926.69 1031.06 919.4 1029.75C912.11 1028.44 903.75 1026.81 896.25 1025.25C888.75 1023.69 881.69 1022.15 874.4 1020.4C867.11 1018.65 859.27 1016.58 852.5 1014.75C845.73 1012.92 840 1011.27 833.75 1009.4C827.5 1007.52 820.79 1005.42 815 1003.5C809.21 1001.58 803.58 999.52 799 997.9C794.42 996.27 791.6 995.27 787.5 993.75C783.4 992.23 779.08 990.62 774.4 988.75C769.72 986.88 764.72 984.79 759.4 982.5C754.08 980.21 746.65 977.03 742.5 975C738.35 972.97 737.83 972.22 734.5 970.3C731.17 968.38 726.58 965.84 722.5 963.5C718.42 961.16 714.07 958.6 710 956.25C705.93 953.9 701.23 951.17 698.1 949.4C694.98 947.62 694.48 947.48 691.25 945.6C688.02 943.72 682.92 940.6 678.75 938.1C674.58 935.6 670.42 933.2 666.25 930.6C662.08 928 657.92 925.31 653.75 922.5C649.58 919.69 644.79 916.25 641.25 913.75C637.71 911.25 635.62 909.58 632.5 907.5C629.38 905.42 626.25 903.33 622.5 901.25C618.75 899.17 614.17 896.98 610 895C605.83 893.02 601.67 891.27 597.5 889.4C593.33 887.52 589.17 885.63 585 883.75C580.83 881.87 576.67 880.08 572.5 878.1C568.33 876.12 564.32 874.08 560 871.9C555.68 869.72 550.77 867.02 546.6 865C542.43 862.98 539.02 861.4 535 859.75C530.98 858.1 525.62 856.02 522.5 855.1C519.38 854.18 518.5 854.38 516.25 854.2C514 854.02 510.21 854.03 509 854Z"/>
<path id="ecc-lc3-50" fill="#056CE1" d="M509 471.3L514 471.3C514.63 471.32 515.72 469.98 517.8 471.4C519.88 472.82 522.88 476.15 526.5 479.8C530.12 483.45 535.33 489.05 539.5 493.3C543.67 497.55 547.1 500.92 551.5 505.3C555.9 509.68 561.4 515.1 565.9 519.6C570.4 524.1 574.28 528.13 578.5 532.3C582.72 536.47 587.08 540.58 591.2 544.6C595.32 548.62 599.2 552.43 603.2 556.4C607.2 560.37 611.15 564.55 615.2 568.4C619.25 572.25 623.28 574.95 627.5 579.5C631.72 584.05 636.22 590.37 640.5 595.7C644.78 601.03 648.97 606.23 653.2 611.5C657.43 616.77 662.83 623.55 665.9 627.3C668.97 631.05 669.5 631.57 671.6 634C673.7 636.43 676.39 639.42 678.5 641.9C680.61 644.38 682.25 646.58 684.25 648.9C686.25 651.22 687.46 652.6 690.5 655.8C693.54 659 698.42 663.97 702.5 668.1C706.58 672.23 710.83 676.43 715 680.6C719.17 684.77 723.33 689.03 727.5 693.1C731.67 697.17 735.83 701.35 740 705C744.17 708.65 748.33 711.67 752.5 715C756.67 718.33 760.83 721.88 765 725C769.17 728.12 773.33 731.04 777.5 733.75C781.67 736.46 785.62 738.71 790 741.25C794.38 743.79 799.58 746.71 803.75 749C807.92 751.29 811.88 753.37 815 755C818.12 756.63 818.75 756.95 822.5 758.8C826.25 760.65 832.5 763.75 837.5 766.1C842.5 768.45 847.83 770.83 852.5 772.9C857.17 774.97 861 776.68 865.5 778.5C870 780.32 874.79 782.05 879.5 783.8C884.21 785.55 889.29 787.38 893.75 789C898.21 790.62 901.14 792 906.25 793.5C911.36 795 919.19 796.73 924.4 798C929.61 799.27 932.4 799.95 937.5 801.1C942.6 802.25 949.79 803.73 955 804.9C960.21 806.07 964.48 807.13 968.75 808.1C973.02 809.07 976.64 809.87 980.6 810.7C984.56 811.53 988.43 812.28 992.5 813.1C996.57 813.92 1000.83 814.77 1005 815.6C1009.17 816.43 1013.12 817.27 1017.5 818.1C1021.88 818.93 1026.77 819.8 1031.25 820.6C1035.73 821.4 1040.19 822.17 1044.4 822.9C1048.61 823.63 1051.61 824.13 1056.5 825C1061.39 825.87 1067.75 827.02 1073.75 828.1C1079.75 829.18 1086.25 830.35 1092.5 831.5C1098.75 832.65 1104.62 833.75 1111.25 835C1117.88 836.25 1126 837.71 1132.25 839C1138.5 840.29 1143.92 841.65 1148.75 842.75C1153.58 843.85 1156.67 844.49 1161.25 845.6C1165.83 846.71 1171.04 848.04 1176.25 849.4C1181.46 850.76 1188.12 852.57 1192.5 853.75C1196.88 854.93 1199.17 855.54 1202.5 856.5C1205.83 857.46 1208.75 858.13 1212.5 859.5C1216.25 860.87 1220.83 862.85 1225 864.7C1229.17 866.55 1232.92 868.37 1237.5 870.6C1242.08 872.83 1248.33 875.91 1252.5 878.1C1256.67 880.29 1258.75 881.45 1262.5 883.75C1266.25 886.05 1271.35 889.29 1275 891.9C1278.65 894.51 1281.28 896.8 1284.4 899.4C1287.53 902 1291.15 904.8 1293.75 907.5C1296.35 910.2 1298.03 912.68 1300 915.6C1301.97 918.52 1303.52 921.77 1305.6 925C1307.68 928.23 1310.31 931.88 1312.5 935C1314.69 938.12 1316.67 940.62 1318.75 943.75C1320.83 946.88 1322.71 950.42 1325 953.75C1327.29 957.08 1330 960.42 1332.5 963.75C1335 967.08 1337.5 970.42 1340 973.75C1342.5 977.08 1345.21 980.42 1347.5 983.75C1349.79 987.08 1351.67 990.42 1353.75 993.75C1355.83 997.08 1357.5 1000.42 1360 1003.75C1362.5 1007.08 1365.83 1010.62 1368.75 1013.75C1371.67 1016.88 1374.38 1019.21 1377.5 1022.5C1380.62 1025.79 1384.58 1030.33 1387.5 1033.5C1390.42 1036.67 1391.67 1037.71 1395 1041.5C1398.33 1045.29 1403.33 1051.08 1407.5 1056.25C1411.67 1061.42 1416.33 1067.46 1420 1072.5C1423.67 1077.54 1426.08 1081.67 1429.5 1086.5C1432.92 1091.33 1436.67 1096.5 1440.5 1101.5C1444.33 1106.5 1449.17 1111.5 1452.5 1116.5C1455.83 1121.5 1458.17 1127 1460.5 1131.5C1462.83 1136 1463.83 1139.5 1466.5 1143.5C1469.17 1147.5 1473.33 1151.5 1476.5 1155.5C1479.67 1159.5 1483.17 1163.5 1485.5 1167.5C1487.83 1171.5 1489 1175.5 1490.5 1179.5C1492 1183.5 1492.83 1187.5 1494.5 1191.5C1496.17 1195.5 1497.83 1199.5 1500.5 1203.5C1503.17 1207.5 1507.04 1211.5 1510.5 1215.5C1513.96 1219.5 1518 1223.73 1521.25 1227.5C1524.5 1231.27 1527.81 1234.56 1530 1238.1C1532.19 1241.64 1533.15 1245.1 1534.4 1248.75C1535.65 1252.4 1536.36 1256.25 1537.5 1260C1538.64 1263.75 1539.79 1267.5 1541.25 1271.25C1542.71 1275 1544.38 1279.17 1546.25 1282.5C1548.12 1285.83 1550 1288.33 1552.5 1291.25C1555 1294.17 1557.71 1297.08 1561.25 1300C1564.79 1302.92 1569.58 1306.04 1573.75 1308.75C1577.92 1311.46 1582.08 1313.75 1586.25 1316.25C1590.42 1318.75 1594.58 1321.25 1598.75 1323.75C1602.92 1326.25 1607.08 1328.96 1611.25 1331.25C1615.42 1333.54 1619.58 1335.62 1623.75 1337.5C1627.92 1339.38 1632.5 1340.93 1636.25 1342.5C1640 1344.07 1643.75 1345.44 1646.25 1346.9C1648.75 1348.36 1649.89 1349.48 1651.25 1351.25C1652.61 1353.02 1653.46 1355.42 1654.4 1357.5C1655.34 1359.58 1656.22 1361.58 1656.9 1363.75C1657.58 1365.92 1658.23 1369.38 1658.5 1370.5L1658.5 1375.5L1653.5 1375.5C1653.23 1374.38 1652.58 1370.92 1651.9 1368.75C1651.22 1366.58 1650.34 1364.58 1649.4 1362.5C1648.46 1360.42 1647.61 1358.02 1646.25 1356.25C1644.89 1354.48 1643.75 1353.36 1641.25 1351.9C1638.75 1350.44 1635 1349.07 1631.25 1347.5C1627.5 1345.93 1622.92 1344.38 1618.75 1342.5C1614.58 1340.62 1610.42 1338.54 1606.25 1336.25C1602.08 1333.96 1597.92 1331.25 1593.75 1328.75C1589.58 1326.25 1585.42 1323.75 1581.25 1321.25C1577.08 1318.75 1572.92 1316.46 1568.75 1313.75C1564.58 1311.04 1559.79 1307.92 1556.25 1305C1552.71 1302.08 1550 1299.17 1547.5 1296.25C1545 1293.33 1543.12 1290.83 1541.25 1287.5C1539.38 1284.17 1537.71 1280 1536.25 1276.25C1534.79 1272.5 1533.64 1268.75 1532.5 1265C1531.36 1261.25 1530.65 1257.4 1529.4 1253.75C1528.15 1250.1 1527.19 1246.64 1525 1243.1C1522.81 1239.56 1519.5 1236.27 1516.25 1232.5C1513 1228.73 1508.96 1224.5 1505.5 1220.5C1502.04 1216.5 1498.17 1212.5 1495.5 1208.5C1492.83 1204.5 1491.17 1200.5 1489.5 1196.5C1487.83 1192.5 1487 1188.5 1485.5 1184.5C1484 1180.5 1482.83 1176.5 1480.5 1172.5C1478.17 1168.5 1474.67 1164.5 1471.5 1160.5C1468.33 1156.5 1464.17 1152.5 1461.5 1148.5C1458.83 1144.5 1457.83 1141 1455.5 1136.5C1453.17 1132 1450.83 1126.5 1447.5 1121.5C1444.17 1116.5 1439.33 1111.5 1435.5 1106.5C1431.67 1101.5 1427.92 1096.33 1424.5 1091.5C1421.08 1086.67 1418.67 1082.54 1415 1077.5C1411.33 1072.46 1406.67 1066.42 1402.5 1061.25C1398.33 1056.08 1393.33 1050.29 1390 1046.5C1386.67 1042.71 1385.42 1041.67 1382.5 1038.5C1379.58 1035.33 1375.62 1030.79 1372.5 1027.5C1369.38 1024.21 1366.67 1021.88 1363.75 1018.75C1360.83 1015.62 1357.5 1012.08 1355 1008.75C1352.5 1005.42 1350.83 1002.08 1348.75 998.75C1346.67 995.42 1344.79 992.08 1342.5 988.75C1340.21 985.42 1337.5 982.08 1335 978.75C1332.5 975.42 1330 972.08 1327.5 968.75C1325 965.42 1322.29 962.08 1320 958.75C1317.71 955.42 1315.83 951.88 1313.75 948.75C1311.67 945.62 1309.69 943.12 1307.5 940C1305.31 936.88 1302.68 933.23 1300.6 930C1298.52 926.77 1296.97 923.52 1295 920.6C1293.03 917.68 1291.35 915.2 1288.75 912.5C1286.15 909.8 1282.53 907 1279.4 904.4C1276.28 901.8 1273.65 899.51 1270 896.9C1266.35 894.29 1261.25 891.05 1257.5 888.75C1253.75 886.45 1251.67 885.29 1247.5 883.1C1243.33 880.91 1237.08 877.83 1232.5 875.6C1227.92 873.37 1224.17 871.55 1220 869.7C1215.83 867.85 1211.25 865.87 1207.5 864.5C1203.75 863.13 1200.83 862.46 1197.5 861.5C1194.17 860.54 1191.88 859.93 1187.5 858.75C1183.12 857.57 1176.46 855.76 1171.25 854.4C1166.04 853.04 1160.83 851.71 1156.25 850.6C1151.67 849.49 1148.58 848.85 1143.75 847.75C1138.92 846.65 1133.5 845.29 1127.25 844C1121 842.71 1112.88 841.25 1106.25 840C1099.62 838.75 1093.75 837.65 1087.5 836.5C1081.25 835.35 1074.75 834.18 1068.75 833.1C1062.75 832.02 1056.39 830.87 1051.5 830C1046.61 829.13 1043.61 828.63 1039.4 827.9C1035.19 827.17 1030.73 826.4 1026.25 825.6C1021.77 824.8 1016.88 823.93 1012.5 823.1C1008.12 822.27 1004.17 821.43 1000 820.6C995.83 819.77 991.57 818.92 987.5 818.1C983.43 817.28 979.56 816.53 975.6 815.7C971.64 814.87 968.02 814.07 963.75 813.1C959.48 812.13 955.21 811.07 950 809.9C944.79 808.73 937.6 807.25 932.5 806.1C927.4 804.95 924.61 804.27 919.4 803C914.19 801.73 906.36 800 901.25 798.5C896.14 797 893.21 795.62 888.75 794C884.29 792.38 879.21 790.55 874.5 788.8C869.79 787.05 865 785.32 860.5 783.5C856 781.68 852.17 779.97 847.5 777.9C842.83 775.83 837.5 773.45 832.5 771.1C827.5 768.75 821.25 765.65 817.5 763.8C813.75 761.95 813.12 761.63 810 760C806.88 758.37 802.92 756.29 798.75 754C794.58 751.71 789.38 748.79 785 746.25C780.62 743.71 776.67 741.46 772.5 738.75C768.33 736.04 764.17 733.12 760 730C755.83 726.88 751.67 723.33 747.5 720C743.33 716.67 739.17 713.65 735 710C730.83 706.35 726.67 702.17 722.5 698.1C718.33 694.03 714.17 689.77 710 685.6C705.83 681.43 701.58 677.23 697.5 673.1C693.42 668.97 688.54 664 685.5 660.8C682.46 657.6 681.25 656.22 679.25 653.9C677.25 651.58 675.61 649.38 673.5 646.9C671.39 644.42 668.7 641.43 666.6 639C664.5 636.57 663.97 636.05 660.9 632.3C657.83 628.55 652.43 621.77 648.2 616.5C643.97 611.23 639.78 606.03 635.5 600.7C631.22 595.37 626.72 589.05 622.5 584.5C618.28 579.95 614.25 577.25 610.2 573.4C606.15 569.55 602.2 565.37 598.2 561.4C594.2 557.43 590.32 553.62 586.2 549.6C582.08 545.58 577.72 541.47 573.5 537.3C569.28 533.13 565.4 529.1 560.9 524.6C556.4 520.1 550.9 514.68 546.5 510.3C542.1 505.92 538.67 502.55 534.5 498.3C530.33 494.05 525.12 488.45 521.5 484.8C517.88 481.15 514.88 477.82 512.8 476.4C510.72 474.98 509.63 476.32 509 476.3Z"/>
</g>
<g id="labels" font-family="'Liberation Serif',serif" font-weight="bold" fill="#000" stroke="#fff" stroke-width="0.5" vector-effect="non-scaling-stroke" text-rendering="geometricPrecision">
<text transform="translate(144.4 1392.6) scale(0.6650 0.6960)" x="0 47.52 71.28 118.8" y="0" font-size="100" vector-effect="non-scaling-stroke" >0.00</text>
<text transform="translate(144.4 1248.77) scale(0.6650 0.6960)" x="0 47.52 71.28 118.8" y="0" font-size="100" vector-effect="non-scaling-stroke" >0.02</text>
<text transform="translate(144.4 1104.93) scale(0.6650 0.6960)" x="0 47.52 71.28 118.8" y="0" font-size="100" vector-effect="non-scaling-stroke" >0.04</text>
<text transform="translate(144.4 961.1) scale(0.6650 0.6960)" x="0 47.52 71.28 118.8" y="0" font-size="100" vector-effect="non-scaling-stroke" >0.06</text>
<text transform="translate(144.4 817.27) scale(0.6650 0.6960)" x="0 47.52 71.28 118.8" y="0" font-size="100" vector-effect="non-scaling-stroke" >0.08</text>
<text transform="translate(144.4 673.43) scale(0.6650 0.6960)" x="0 47.52 71.28 118.8" y="0" font-size="100" vector-effect="non-scaling-stroke" >0.10</text>
<text transform="translate(144.4 529.6) scale(0.6650 0.6960)" x="0 47.52 71.28 118.8" y="0" font-size="100" vector-effect="non-scaling-stroke" >0.12</text>
<text transform="translate(144.4 385.77) scale(0.6650 0.6960)" x="0 47.52 71.28 118.8" y="0" font-size="100" vector-effect="non-scaling-stroke" >0.14</text>
<text transform="translate(144.4 241.93) scale(0.6650 0.6960)" x="0 47.52 71.28 118.8" y="0" font-size="100" vector-effect="non-scaling-stroke" >0.16</text>
<text transform="translate(144.4 98.1) scale(0.6650 0.6960)" x="0 47.52 71.28 118.8" y="0" font-size="100" vector-effect="non-scaling-stroke" >0.18</text>
<text transform="translate(224.3 1467) scale(0.6650 0.6960)" x="0 47.52 71.28 118.8 166.32" y="0" font-size="100" vector-effect="non-scaling-stroke" >0.001</text>
<text transform="translate(492.7 1467) scale(0.6650 0.6960)" x="0 47.52 71.28 118.8" y="0" font-size="100" vector-effect="non-scaling-stroke" >0.01</text>
<text transform="translate(760.8 1467) scale(0.6650 0.6960)" x="0 47.52 71.28" y="0" font-size="100" vector-effect="non-scaling-stroke" >0.1</text>
<text transform="translate(1037.8 1467) scale(0.6650 0.6960)" x="0" y="0" font-size="100" vector-effect="non-scaling-stroke" >1</text>
<text transform="translate(1274.4 1467) scale(0.6650 0.6960)" x="0 47.52" y="0" font-size="100" vector-effect="non-scaling-stroke" >10</text>
<text transform="translate(1511.2 1467) scale(0.6650 0.6960)" x="0 47.52 95.04" y="0" font-size="100" vector-effect="non-scaling-stroke" >100</text>
<text transform="translate(1748.3 1467) scale(0.6650 0.6960)" x="0 47.52 95.04 142.56" y="0" font-size="100" vector-effect="non-scaling-stroke" >1000</text>
<text transform="translate(728.63 1576) scale(0.8040 0.8580)" x="0 61.08 111.08 155.47 199.85 224.85 297.07 324.85 374.85 458.15 502.54 535.84 580.22 624.61 649.61 682.91 739.6 822.9" y="0" font-size="100" vector-effect="non-scaling-stroke" >Pore Diameter (μm)</text>
<text transform="translate(83.3 1423.47) rotate(-90) scale(0.8100 0.8700)" x="0 76.39 135.22 223.33 282.16 311.55 364.44 399.66 429.05 481.94 528.89 555.33 596.5 655.33 690.55 737.5 796.33 837.49 866.88 919.77 978.6 1005.04 1081.43 1134.32 1163.71 1222.54 1310.65 1357.6 1384.05 1419.27 1507.38 1577.94 1607.33 1660.22" y="0" font-size="100" vector-effect="non-scaling-stroke" >Cumulative Intrusion Volume (mL/g)</text>
</g>
<g id="legend">
<g shape-rendering="crispEdges"><rect x="1289" y="103" width="477" height="257" fill="#000"/><rect x="1292" y="106" width="472" height="251" fill="#fff"/></g>
<g stroke-width="6" stroke-linecap="round" fill="none" shape-rendering="crispEdges">
<line x1="1298.2" y1="148" x2="1426.2" y2="148" stroke="#757575"/>
<line x1="1298.2" y1="232.5" x2="1426.2" y2="232.5" stroke="#F83E3E"/>
<line x1="1298.2" y1="317" x2="1426.2" y2="317" stroke="#056CE1"/>
</g>
<g font-family="'Liberation Serif',serif" font-weight="bold" fill="#000" stroke="#fff" stroke-width="0.5" vector-effect="non-scaling-stroke" text-rendering="geometricPrecision">
<text transform="translate(1441.9 167.9) scale(0.5950 0.6230)" x="0 64.23 133.78 203.33 235.4 294.22" y="0" font-size="100" vector-effect="non-scaling-stroke" >ECC-PC</text>
<text transform="translate(1441.9 253) scale(0.5950 0.6230)" font-size="100" vector-effect="non-scaling-stroke"><tspan x="0 64.23 133.78 203.33 235.4 299.63">ECC-LC</tspan><tspan x="369.18" font-size="65.8" dy="-41.25">3</tspan><tspan x="400.86 432.93 481.08" dy="41.25">-35</tspan></text>
<text transform="translate(1441.9 337.1) scale(0.5950 0.6230)" font-size="100" vector-effect="non-scaling-stroke"><tspan x="0 64.23 133.78 203.33 235.4 299.63">ECC-LC</tspan><tspan x="369.18" font-size="65.8" dy="-41.25">3</tspan><tspan x="400.86 432.93 481.08" dy="41.25">-50</tspan></text>
</g></g>
</svg></body></html>
